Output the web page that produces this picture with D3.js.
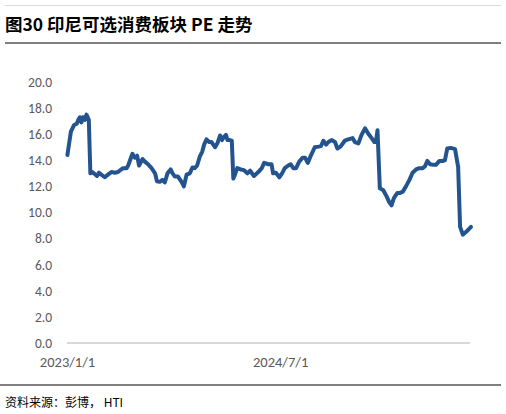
<!DOCTYPE html>
<html><head><meta charset="utf-8">
<script src="https://cdn.jsdelivr.net/npm/d3@7"></script>
<style>
html,body{margin:0;padding:0;background:#fff;}
svg{display:block;font-family:"Noto Sans CJK SC","Liberation Sans",sans-serif;}
</style></head>
<body><svg id="c" width="506" height="414"></svg>
<script>
const titleText = "图30 印尼可选消费板块 PE 走势";
const sourceText = "资料来源：彭博， HTI";
const yTicks = [0, 2, 4, 6, 8, 10, 12, 14, 16, 18, 20];
const xTickDates = ["2023-01-01", "2024-07-01"];
const xTickLabels = ["2023/1/1", "2024/7/1"];
const dates = ["2023-01-02","2023-01-05","2023-01-11","2023-01-19","2023-01-26","2023-01-30","2023-02-03","2023-02-07","2023-02-11","2023-02-16","2023-02-20","2023-02-26","2023-03-02","2023-03-07","2023-03-13","2023-03-19","2023-03-24","2023-03-30","2023-04-08","2023-04-16","2023-04-25","2023-05-04","2023-05-12","2023-05-18","2023-05-25","2023-06-03","2023-06-07","2023-06-13","2023-06-18","2023-06-24","2023-06-30","2023-07-05","2023-07-14","2023-07-20","2023-07-28","2023-08-06","2023-08-15","2023-08-20","2023-08-27","2023-09-03","2023-09-09","2023-09-16","2023-09-24","2023-09-29","2023-10-05","2023-10-13","2023-10-22","2023-10-28","2023-11-04","2023-11-12","2023-11-19","2023-11-25","2023-12-01","2023-12-08","2023-12-14","2023-12-19","2023-12-25","2024-01-01","2024-01-07","2024-01-16","2024-01-22","2024-01-29","2024-02-03","2024-02-08","2024-02-13","2024-02-17","2024-02-23","2024-02-28","2024-03-03","2024-03-07","2024-03-13","2024-03-22","2024-03-30","2024-04-08","2024-04-15","2024-04-25","2024-05-06","2024-05-15","2024-05-21","2024-06-01","2024-06-09","2024-06-13","2024-06-20","2024-06-29","2024-07-06","2024-07-13","2024-07-22","2024-07-28","2024-08-04","2024-08-11","2024-08-19","2024-08-28","2024-09-03","2024-09-10","2024-09-17","2024-09-28","2024-10-07","2024-10-14","2024-10-20","2024-10-27","2024-11-02","2024-11-10","2024-11-19","2024-11-25","2024-12-03","2024-12-14","2024-12-23","2025-01-03","2025-01-09","2025-01-18","2025-01-26","2025-02-04","2025-02-12","2025-02-21","2025-02-28","2025-03-04","2025-03-08","2025-03-14","2025-03-23","2025-04-01","2025-04-07","2025-04-13","2025-04-19","2025-04-28","2025-05-05","2025-05-12","2025-05-20","2025-05-29","2025-06-06","2025-06-15","2025-06-23","2025-07-02","2025-07-08","2025-07-14","2025-07-21","2025-07-30","2025-08-05","2025-08-14","2025-08-22","2025-08-28","2025-09-03","2025-09-12","2025-09-23","2025-10-01","2025-10-06","2025-10-13","2025-10-21","2025-11-03"];
const peValues = [14.4,15.0,16.2,16.7,16.8,17.1,17.3,16.9,17.3,17.1,17.5,17.1,13.0,13.1,12.95,12.8,13.05,12.9,12.7,12.9,13.1,13.05,13.1,13.25,13.4,13.4,13.6,14.1,14.5,14.2,14.35,13.6,14.1,13.9,13.7,13.4,13.0,12.4,12.35,12.5,12.3,13.0,13.3,13.0,12.75,12.75,12.35,12.0,12.9,13.0,13.45,13.4,13.6,14.3,14.65,15.2,15.6,15.4,15.4,15.0,15.3,15.9,15.55,15.8,15.95,15.55,15.55,15.5,12.6,12.9,13.4,13.3,13.25,13.0,13.2,12.8,13.1,13.4,13.8,13.7,13.7,13.0,13.05,12.7,13.0,13.4,13.6,13.7,13.4,13.4,13.9,14.2,14.2,13.8,14.3,15.0,15.05,15.1,15.5,15.2,15.4,15.55,15.4,14.9,15.05,15.5,15.6,15.7,15.4,15.3,15.95,16.45,16.05,15.7,15.4,15.4,16.3,11.85,11.7,11.2,10.8,10.55,11.1,11.5,11.5,11.6,12.0,12.5,13.05,13.3,13.4,13.4,13.55,13.95,13.7,13.65,13.65,13.95,13.95,14.0,14.9,14.95,14.85,13.5,8.9,8.3,8.5,8.9];
const xDomain = ["2023-01-01", "2025-11-03"];

const parse = d3.timeParse("%Y-%m-%d");
const data = dates.map((d, i) => ({ date: parse(d), v: peValues[i] }));

const svg = d3.select("#c");
const x = d3.scaleTime().domain(xDomain.map(parse)).range([67, 471]);
const y = d3.scaleLinear().domain([0, 20]).range([343, 82]);

// header rules
svg.append("line").attr("x1", 5).attr("x2", 501).attr("y1", 5.5).attr("y2", 5.5)
  .attr("stroke", "#d9d9d9").attr("stroke-width", 1);
svg.append("text").attr("x", 5).attr("y", 31).text(titleText)
  .attr("font-size", 17.5).attr("font-weight", "bold").attr("fill", "#000");
svg.append("line").attr("x1", 5).attr("x2", 501).attr("y1", 43).attr("y2", 43)
  .attr("stroke", "#7f7f7f").attr("stroke-width", 2);

// y axis labels
const yAxis = d3.axisLeft(y).tickValues(yTicks).tickFormat(d3.format(".1f")).tickSize(0).tickPadding(0);
const gy = svg.append("g").attr("transform", "translate(52,0)").call(yAxis);
gy.select(".domain").remove();
gy.selectAll("text").attr("font-size", 13.5).attr("fill", "#595959")
  .attr("font-family", "Calibri,Carlito,'Liberation Sans',sans-serif");

// x axis
const xAxis = d3.axisBottom(x).tickValues(xTickDates.map(parse))
  .tickFormat((d, i) => xTickLabels[i]).tickSize(0).tickPadding(14);
const gx = svg.append("g").attr("transform", "translate(0,343)").call(xAxis);
gx.select(".domain").attr("stroke", "#d9d9d9").attr("stroke-width", 2).attr("d", "M67,0H470");
gx.selectAll("text").attr("font-size", 14.5).attr("fill", "#595959")
  .attr("font-family", "Calibri,Carlito,'Liberation Sans',sans-serif");

// line
const line = d3.line().x(d => x(d.date)).y(d => y(d.v));
svg.append("path").datum(data).attr("d", line).attr("fill", "none")
  .attr("stroke", "#245490").attr("stroke-width", 4).attr("stroke-linejoin", "round").attr("stroke-linecap", "round");

// footer
svg.append("line").attr("x1", 0).attr("x2", 501).attr("y1", 385).attr("y2", 385)
  .attr("stroke", "#7f7f7f").attr("stroke-width", 2);
svg.append("text").attr("x", 5).attr("y", 407).text(sourceText)
  .attr("font-size", 12).attr("fill", "#000");
</script></body></html>
